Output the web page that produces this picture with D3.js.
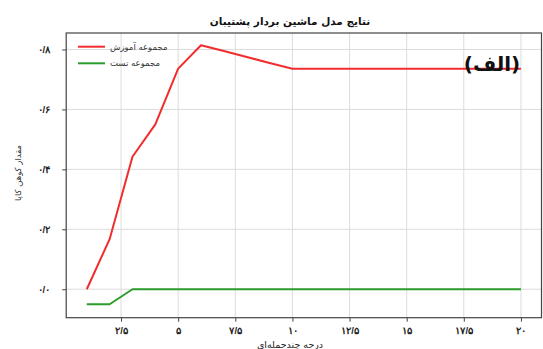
<!DOCTYPE html>
<html>
<head>
<meta charset="utf-8">
<script src="https://cdn.jsdelivr.net/npm/d3@7"></script>
<style>
  html, body { margin: 0; padding: 0; background: #fff; }
  svg { display: block; font-family: "DejaVu Sans", sans-serif; }
</style>
</head>
<body>
<svg id="chart" width="543" height="349"></svg>
<script>
// Polynomial degree (x) and Cohen's kappa for train / test sets
const degrees = [1, 2, 3, 4, 5, 6, 7, 8, 9, 10, 11, 12, 13, 14, 15, 16, 17, 18, 19, 20];
const trainKappa = [0.0, 0.167, 0.442, 0.55, 0.736, 0.814, 0.795, 0.775, 0.755, 0.736,
                    0.736, 0.736, 0.736, 0.736, 0.736, 0.736, 0.736, 0.736, 0.736, 0.736];
const testKappa = [-0.05, -0.05, 0.0, 0.0, 0.0, 0.0, 0.0, 0.0, 0.0, 0.0,
                   0.0, 0.0, 0.0, 0.0, 0.0, 0.0, 0.0, 0.0, 0.0, 0.0];
const seriesNames = ["مجموعه آموزش", "مجموعه تست"];
const xTicks = [2.5, 5, 7.5, 10, 12.5, 15, 17.5, 20];
const xTickLabels = ["۲/۵", "۵", "۷/۵", "۱۰", "۱۲/۵", "۱۵", "۱۷/۵", "۲۰"];
const yTicks = [0.0, 0.2, 0.4, 0.6, 0.8];
const yTickLabels = ["۰/۰", "۰/۲", "۰/۴", "۰/۶", "۰/۸"];
const titleText = "نتایج مدل ماشین بردار پشتیبان";
const xLabelText = "درجه چندجمله‌ای";
const yLabelText = "مقدار کوهن کاپا";
const panelTag = "(الف)";

const svg = d3.select("#chart");
const plot = { left: 66.2, right: 541.5, top: 33, bottom: 317.7 };

const x = d3.scaleLinear().domain([0.1, 20.9]).range([plot.left, plot.right]);
const y = d3.scaleLinear().domain([-0.095, 0.855]).range([plot.bottom, plot.top]);

// grid
const grid = svg.append("g");
grid.selectAll("line.v").data(xTicks).join("line")
  .attr("x1", d => x(d)).attr("x2", d => x(d))
  .attr("y1", plot.top).attr("y2", plot.bottom)
  .attr("stroke", "#dcdcdc").attr("stroke-width", 1);
grid.selectAll("line.h").data(yTicks).join("line")
  .attr("y1", d => y(d)).attr("y2", d => y(d))
  .attr("x1", plot.left).attr("x2", plot.right)
  .attr("stroke", "#dcdcdc").attr("stroke-width", 1);

// axes
const xAxis = d3.axisBottom(x).tickValues(xTicks)
  .tickFormat((d, i) => xTickLabels[i]).tickSize(4).tickPadding(6);
const yAxis = d3.axisLeft(y).tickValues(yTicks)
  .tickFormat((d, i) => yTickLabels[i]).tickSize(4).tickPadding(12);

const gx = svg.append("g").attr("transform", `translate(0,${plot.bottom})`).call(xAxis);
const gy = svg.append("g").attr("transform", `translate(${plot.left},0)`).call(yAxis);
[gx, gy].forEach(g => {
  g.select(".domain").remove();
  g.selectAll(".tick line").attr("stroke", "#444");
  g.selectAll(".tick text").attr("fill", "#222").attr("font-size", 9.5).attr("font-weight", "bold");
});

// lines
const line = d3.line().x((d, i) => x(degrees[i])).y(d => y(d));
svg.append("path").datum(trainKappa).attr("d", line)
  .attr("fill", "none").attr("stroke", "#f22c2c").attr("stroke-width", 2)
  .attr("stroke-linejoin", "round");
svg.append("path").datum(testKappa).attr("d", line)
  .attr("fill", "none").attr("stroke", "#2c9c2c").attr("stroke-width", 2)
  .attr("stroke-linejoin", "round");

// frame
svg.append("rect")
  .attr("x", plot.left).attr("y", plot.top)
  .attr("width", plot.right - plot.left).attr("height", plot.bottom - plot.top)
  .attr("fill", "none").attr("stroke", "#444").attr("stroke-width", 1.2);

// legend
const legendColors = ["#f22c2c", "#2c9c2c"];
const lg = svg.append("g");
seriesNames.forEach((name, i) => {
  const ly = 46.7 + i * 16.6;
  lg.append("line").attr("x1", 78).attr("x2", 105).attr("y1", ly).attr("y2", ly)
    .attr("stroke", legendColors[i]).attr("stroke-width", 2);
  lg.append("text").attr("x", 110).attr("y", ly).attr("dy", "0.35em")
    .attr("font-size", 8.5).attr("fill", "#333").attr("text-anchor", "start")
    .text(name);
});

// panel tag
svg.append("text").attr("x", 492).attr("y", 64).attr("dy", "0.35em")
  .attr("direction", "rtl").attr("unicode-bidi", "embed")
  .attr("text-anchor", "middle").attr("font-size", 20).attr("font-weight", "bold")
  .attr("fill", "#111").text(panelTag);

// title
svg.append("text").attr("x", 290).attr("y", 21).attr("dy", "0.35em")
  .attr("text-anchor", "middle").attr("font-size", 10.5).attr("font-weight", "bold")
  .attr("fill", "#111").text(titleText);

// axis labels
svg.append("text").attr("x", 290).attr("y", 345).attr("dy", "0.35em")
  .attr("text-anchor", "middle").attr("font-size", 9.5).attr("fill", "#222")
  .text(xLabelText);
svg.append("text").attr("transform", "translate(18,173) rotate(-90)")
  .attr("dy", "0.35em").attr("text-anchor", "middle").attr("font-size", 8.5)
  .attr("fill", "#333").text(yLabelText);
</script>
</body>
</html>
